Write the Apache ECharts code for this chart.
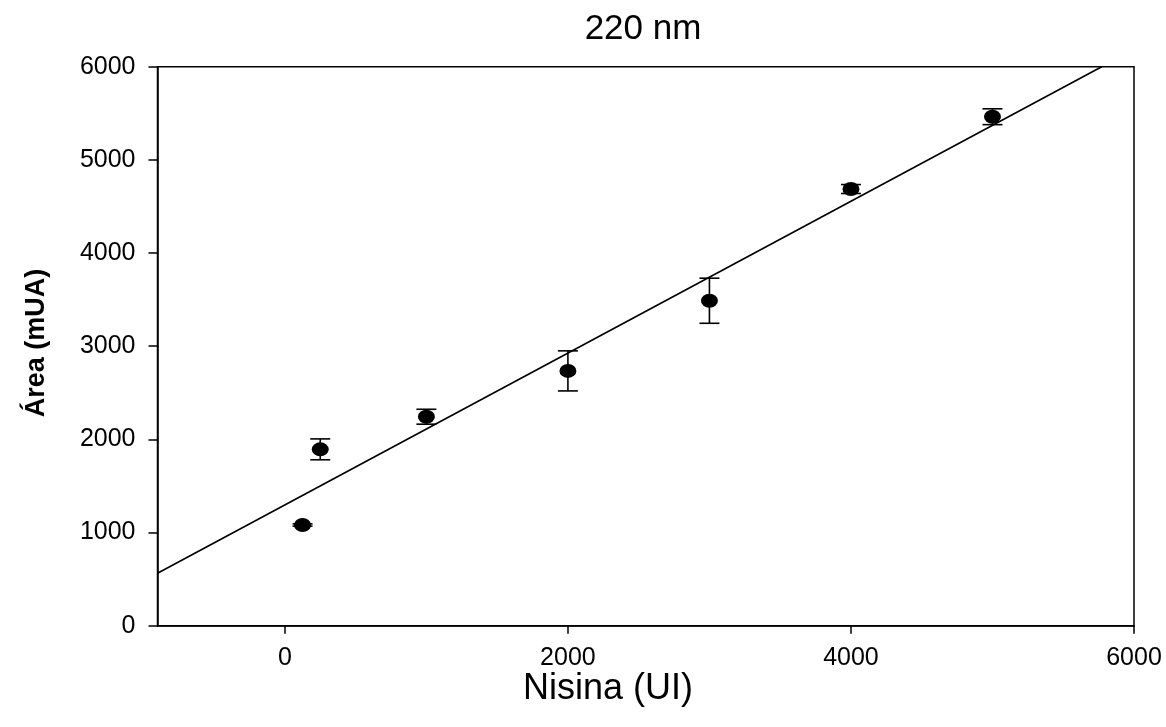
<!DOCTYPE html>
<html>
<head>
<meta charset="utf-8">
<script src="https://cdn.jsdelivr.net/npm/echarts@6/dist/echarts.min.js"></script>
<style>
  html, body { margin: 0; padding: 0; background: #fff; }
  #chart { width: 1166px; height: 727px; }
</style>
</head>
<body>
<div id="chart"></div>
<script>
// Nisin standard curve at 220 nm: mean peak area with error bars
const nisina = [125, 250, 1000, 2000, 3000, 4000, 5000];
const area = [1081, 1893, 2243, 2735, 3488, 4687, 5463];
const areaErr = [12, 112, 80, 215, 242, 48, 85];

// Linear fit y = a*x + b
const fitSlope = 0.815;
const fitIntercept = 1296;

const xTicks = [0, 2000, 4000, 6000];
const yTicks = [0, 1000, 2000, 3000, 4000, 5000, 6000];

const X_MIN = -900, X_MAX = 6000, Y_MIN = 0, Y_MAX = 6000;

// fit line clipped to the plotting box
const fitStartX = X_MIN;
const fitEndX = Math.min(X_MAX, (Y_MAX - fitIntercept) / fitSlope);
const fitLine = [
  [fitStartX, fitSlope * fitStartX + fitIntercept],
  [fitEndX, fitSlope * fitEndX + fitIntercept]
];

const points = nisina.map((x, i) => [x, area[i]]);
const errData = nisina.map((x, i) => [x, area[i] - areaErr[i], area[i] + areaErr[i]]);

const FONT = 'Liberation Sans';
const plain = v => String(v);

const chart = echarts.init(document.getElementById('chart'), null, { renderer: 'canvas' });

chart.setOption({
  backgroundColor: '#ffffff',
  animation: false,
  grid: {
    left: 157.5, right: 32, top: 66.7, bottom: 101.3,
    show: true, borderColor: '#000', borderWidth: 1.5, backgroundColor: 'transparent'
  },
  graphic: [
    {
      type: 'text',
      style: { text: '220 nm', x: 643, y: 29, fill: '#000', fontFamily: FONT, fontSize: 35, align: 'center', verticalAlign: 'middle' }
    },
    {
      type: 'text',
      style: { text: 'Nisina (UI)', x: 608, y: 689, fill: '#000', fontFamily: FONT, fontSize: 36, align: 'center', verticalAlign: 'middle' }
    },
    {
      type: 'text', x: 37, y: 343, rotation: Math.PI / 2,
      style: { text: 'Área (mUA)', x: 0, y: 0, fill: '#000', fontFamily: FONT, fontWeight: 'bold', fontSize: 27, align: 'center', verticalAlign: 'middle' }
    }
  ],
  xAxis: {
    type: 'value', min: X_MIN, max: X_MAX,
    splitLine: { show: false },
    axisLine: { show: true, onZero: false, lineStyle: { color: '#000', width: 1.5 } },
    axisTick: { show: true, inside: false, length: 8, customValues: xTicks, lineStyle: { color: '#000', width: 1.5 } },
    axisLabel: { customValues: xTicks, formatter: plain, margin: 20, color: '#000', fontFamily: FONT, fontSize: 25 }
  },
  yAxis: {
    type: 'value', min: Y_MIN, max: Y_MAX, interval: 1000,
    splitLine: { show: false },
    axisLine: { show: true, onZero: false, lineStyle: { color: '#000', width: 1.5 } },
    axisTick: { show: true, inside: false, length: 9, lineStyle: { color: '#000', width: 1.5 } },
    axisLabel: { formatter: plain, margin: 22, color: '#000', fontFamily: FONT, fontSize: 25 }
  },
  series: [
    {
      type: 'line', data: fitLine, showSymbol: false, symbol: 'none',
      lineStyle: { color: '#000', width: 1.6 }, z: 2, silent: true
    },
    {
      type: 'custom', z: 3,
      data: errData,
      renderItem: function (params, api) {
        const x = api.value(0);
        const lo = api.coord([x, api.value(1)]);
        const hi = api.coord([x, api.value(2)]);
        const cap = 10;
        const style = { stroke: '#000', lineWidth: 1.6 };
        return {
          type: 'group',
          children: [
            { type: 'line', shape: { x1: lo[0], y1: lo[1], x2: hi[0], y2: hi[1] }, style: style },
            { type: 'line', shape: { x1: hi[0] - cap, y1: hi[1], x2: hi[0] + cap, y2: hi[1] }, style: style },
            { type: 'line', shape: { x1: lo[0] - cap, y1: lo[1], x2: lo[0] + cap, y2: lo[1] }, style: style }
          ]
        };
      }
    },
    {
      type: 'scatter', data: points, symbol: 'circle', symbolSize: [17, 14],
      itemStyle: { color: '#000', opacity: 1 }, z: 4
    }
  ]
});
</script>
</body>
</html>
